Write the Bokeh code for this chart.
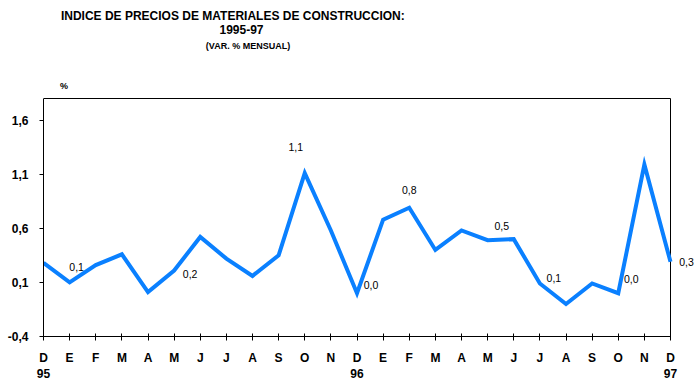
from bokeh.plotting import figure
from bokeh.models import (Range1d, FixedTicker, CustomJSTickFormatter, Label,
                          LabelSet, ColumnDataSource)
from bokeh.core.properties import value
from bokeh.embed import file_html
from bokeh.resources import INLINE

# ---------------- data ----------------
months = ["D", "E", "F", "M", "A", "M", "J", "J", "A", "S", "O", "N",
          "D", "E", "F", "M", "A", "M", "J", "J", "A", "S", "O", "N", "D"]
years = {0: "95", 12: "96", 24: "97"}
values = [0.28, 0.10, 0.26, 0.36, 0.01, 0.21, 0.52, 0.32, 0.16, 0.35, 1.11, 0.58,
          0.00, 0.68, 0.79, 0.40, 0.58, 0.49, 0.50, 0.09, -0.10, 0.09, 0.00, 1.19, 0.29]
y_min, y_max = -0.4, 1.8
y_ticks = [-0.4, 0.1, 0.6, 1.1, 1.6]
labelled = [1, 5, 10, 12, 14, 18, 19, 22, 24]

title_lines = ["INDICE  DE PRECIOS DE MATERIALES DE CONSTRUCCION:", "1995-97",
               "(VAR. % MENSUAL)"]
unit_label = "%"

# ---------------- layout (pixels) ----------------
W, H = 699, 387
FL, FR, FT, FB = 43, 670, 98, 336          # plot box edges
n = len(values) - 1
xs = (FR - FL) / n                          # px per month
ys = (FB - FT) / (y_max - y_min)            # px per unit
x_hi = n + (W - FR) / xs
y_hi = y_max + FT / ys


def px(xp):   # page x -> data x
    return (xp - FL) / xs


def py(yp):   # page y -> data y
    return y_max + (FT - yp) / ys


x = list(range(len(values)))
tick_labels = [m + ("\n" + years[i] if i in years else "") for i, m in enumerate(months)]

p = figure(width=W, height=H, output_backend="svg", toolbar_location=None,
           x_range=Range1d(0, x_hi), y_range=Range1d(y_min, y_hi),
           min_border_left=FL, min_border_right=0, min_border_top=0,
           min_border_bottom=H - FB)
p.background_fill_color = "white"
p.border_fill_color = "white"
p.outline_line_color = None
p.xgrid.visible = False
p.ygrid.visible = False

# plot box (top and right sides)
p.segment(x0=[0, n], y0=[y_max, y_min], x1=[n, n], y1=[y_max, y_max],
          line_color="black", line_width=1)

p.line(x, values, line_color="#0A80FF", line_width=4, line_join="miter")

AX_FONT = "'Liberation Sans', Arial, sans-serif"
for ax in (p.xaxis[0], p.yaxis[0]):
    ax.axis_line_color = "black"
    ax.major_tick_line_color = "black"
    ax.minor_tick_line_color = None
    ax.major_label_text_font = AX_FONT
    ax.major_label_text_font_style = "bold"
    ax.major_label_text_font_size = "12px"
    ax.major_label_text_color = "black"

p.xaxis.bounds = (0, n)
p.xaxis.ticker = FixedTicker(ticks=x)
p.xaxis.formatter = CustomJSTickFormatter(args=dict(labels=tick_labels),
                                          code="return labels[Math.round(tick)];")
p.xaxis.major_tick_in = 3
p.xaxis.major_tick_out = 4
p.xaxis.major_label_standoff = 10

p.yaxis.bounds = (y_min, y_max)
p.yaxis.ticker = FixedTicker(ticks=y_ticks)
p.yaxis.formatter = CustomJSTickFormatter(code="return tick.toFixed(1).replace('.', ',');")
p.yaxis.major_tick_in = 0
p.yaxis.major_tick_out = 4
p.yaxis.major_label_standoff = 11

# data labels
offsets = {1: (7, 15), 5: (16, -3), 10: (-9, 26), 12: (14, 8), 14: (0, 18),
           18: (-12, 13), 19: (14, 5), 22: (13, 14), 24: (16, 0)}
src = ColumnDataSource(dict(
    x=[i for i in labelled],
    y=[values[i] for i in labelled],
    t=[f"{values[i]:.1f}".replace(".", ",").replace("-0,0", "0,0") for i in labelled],
    dx=[offsets[i][0] for i in labelled],
    dy=[offsets[i][1] for i in labelled],
))
p.add_layout(LabelSet(x="x", y="y", text="t", source=src, x_offset="dx", y_offset="dy",
                      text_align="center", text_baseline="middle",
                      text_font=value(AX_FONT), text_font_size=value("10.5px"),
                      text_color="black"))

# titles
TFONT = "'Liberation Sans', Arial, sans-serif"
for txt, xp, yp, size in [(title_lines[0], 234, 15, "12px"),
                          (title_lines[1], 241, 29, "12px"),
                          (title_lines[2], 247.5, 45, "9px"),
                          (unit_label, 63.5, 85, "9px")]:
    p.add_layout(Label(x=px(xp), y=py(yp), text=txt,
                       text_align="center", text_baseline="middle",
                       text_font=TFONT, text_font_style="bold",
                       text_font_size=size, text_color="black"))

open("out.html", "w").write(file_html(p, INLINE))
